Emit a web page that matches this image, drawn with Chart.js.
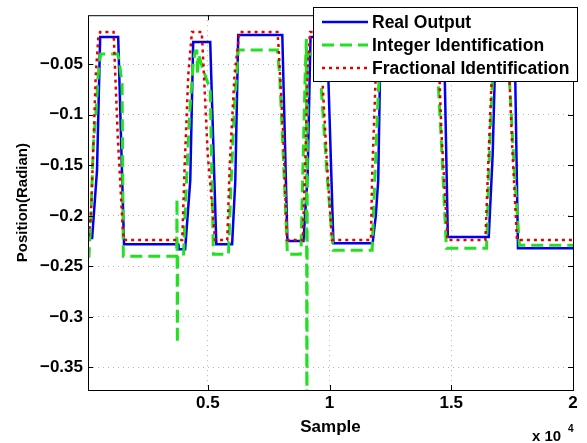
<!DOCTYPE html>
<html>
<head>
<meta charset="utf-8">
<script src="https://cdn.jsdelivr.net/npm/chart.js@4/dist/chart.umd.min.js"></script>
<style>
  html, body { margin: 0; padding: 0; background: #fff; }
  #wrap { width: 587px; height: 443px; position: relative; }
</style>
</head>
<body>
<div id="wrap"><canvas id="posChart"></canvas></div>
<script>
'use strict';

// ── Data ────────────────────────────────────────────────
const xTicks      = [5000, 10000, 15000, 20000];
const xTickLabels = ['0.5', '1', '1.5', '2'];
const yTicks      = [-0.35, -0.3, -0.25, -0.2, -0.15, -0.1, -0.05];

const realX = [0, 250, 450, 580, 1320, 1560, 3780, 3800, 4070, 4280, 4400, 5100, 5350, 6000, 6130, 6250, 8060, 8270, 8930, 9100, 9220, 9900, 10160, 11770, 11900, 12000, 12100, 14700, 14860, 16540, 16700, 16830, 17600, 17740, 20000];
const realY = [-0.222, -0.222, -0.155, -0.023, -0.023, -0.228, -0.228, -0.233, -0.233, -0.165, -0.028, -0.028, -0.228, -0.228, -0.165, -0.021, -0.021, -0.225, -0.225, -0.16, -0.023, -0.023, -0.227, -0.227, -0.2, -0.165, -0.022, -0.022, -0.221, -0.221, -0.14, -0.022, -0.022, -0.232, -0.232];

const intX = [0, 120, 200, 300, 400, 500, 600, 1300, 1350, 1480, 1530, 3720, 3735, 3750, 3765, 4000, 4100, 4250, 4400, 4480, 4550, 4580, 4620, 4800, 5100, 5230, 5850, 5950, 6100, 6250, 7860, 7950, 8100, 8270, 8800, 8830, 8900, 9000, 9050, 9070, 9090, 9600, 9650, 9900, 10150, 11750, 11850, 12000, 12100, 14400, 14600, 14800, 16450, 16550, 16700, 16800, 17300, 17400, 17600, 17800, 20000];
const intY = [-0.24, -0.24, -0.20, -0.13, -0.10, -0.06, -0.040, -0.040, -0.045, -0.07, -0.24, -0.24, -0.183, -0.326, -0.24, -0.24, -0.18, -0.10, -0.05, -0.037, -0.037, -0.06, -0.04, -0.055, -0.075, -0.238, -0.238, -0.17, -0.09, -0.036, -0.036, -0.06, -0.14, -0.238, -0.238, -0.232, -0.16, -0.06, -0.025, -0.45, -0.04, -0.04, -0.07, -0.16, -0.234, -0.234, -0.17, -0.08, -0.04, -0.04, -0.13, -0.232, -0.232, -0.15, -0.06, -0.04, -0.04, -0.07, -0.16, -0.229, -0.229];

const fracX = [0, 80, 200, 300, 400, 500, 580, 1130, 1150, 1300, 1500, 1550, 3950, 4050, 4200, 4350, 4750, 4800, 5000, 5300, 5800, 5900, 6100, 6300, 7860, 7900, 8100, 8250, 8900, 9000, 9100, 9200, 9550, 9650, 9900, 10100, 11700, 11750, 11900, 12000, 14450, 14600, 14850, 16400, 16550, 16700, 16750, 17300, 17350, 17500, 17700, 20000];
const fracY = [-0.225, -0.225, -0.20, -0.13, -0.06, -0.025, -0.018, -0.018, -0.03, -0.12, -0.21, -0.224, -0.224, -0.15, -0.06, -0.018, -0.018, -0.04, -0.14, -0.224, -0.224, -0.15, -0.06, -0.018, -0.018, -0.03, -0.12, -0.224, -0.224, -0.15, -0.06, -0.018, -0.018, -0.04, -0.15, -0.224, -0.224, -0.16, -0.06, -0.018, -0.018, -0.12, -0.224, -0.224, -0.13, -0.04, -0.018, -0.018, -0.04, -0.13, -0.224, -0.224];

const pts = (xs, ys) => xs.map((x, i) => ({ x, y: ys[i] }));

Chart.defaults.font.family = "'Liberation Sans', Arial, sans-serif";
Chart.defaults.font.weight = 'bold';
Chart.defaults.color = '#000';

// ── Boxed legend inside the plot + axis box / inward ticks ──
const matlabFrame = {
    id: 'matlabFrame',
    afterDatasetsDraw(chart) {
        const { ctx, chartArea: a, scales } = chart;
        ctx.save();
        ctx.strokeStyle = '#000';
        ctx.lineWidth = 1;
        ctx.strokeRect(a.left + 0.5, a.top + 0.5, a.right - a.left, a.bottom - a.top);
        ctx.beginPath();
        xTicks.forEach(v => {
            const px = Math.round(scales.x.getPixelForValue(v)) + 0.5;
            ctx.moveTo(px, a.bottom); ctx.lineTo(px, a.bottom - 5);
            ctx.moveTo(px, a.top);    ctx.lineTo(px, a.top + 5);
        });
        yTicks.forEach(v => {
            const py = Math.round(scales.y.getPixelForValue(v)) + 0.5;
            ctx.moveTo(a.left, py);  ctx.lineTo(a.left + 5, py);
            ctx.moveTo(a.right, py); ctx.lineTo(a.right - 5, py);
        });
        ctx.stroke();

        // legend
        const bx = 313, by = 7, bw = 264, bh = 74;
        ctx.fillStyle = '#fff';
        ctx.fillRect(bx, by, bw, bh);
        ctx.strokeRect(bx + 0.5, by + 0.5, bw, bh);
        ctx.font = "bold 17.5px 'Liberation Sans', Arial, sans-serif";
        ctx.textBaseline = 'middle';
        chart.data.datasets.forEach((ds, i) => {
            const y = 22 + i * 23;
            ctx.save();
            ctx.strokeStyle = ds.borderColor;
            ctx.lineWidth = ds.borderWidth;
            ctx.setLineDash(ds.borderDash || []);
            ctx.beginPath(); ctx.moveTo(322, y); ctx.lineTo(368, y); ctx.stroke();
            ctx.restore();
            ctx.fillStyle = '#000';
            ctx.fillText(ds.label, 372, y + 1);
        });

        // exponent label under the x axis
        ctx.font = "bold 15px 'Liberation Sans', Arial, sans-serif";
        ctx.textBaseline = 'alphabetic';
        ctx.fillText('x 10', 532, 441);
        ctx.font = "bold 10px 'Liberation Sans', Arial, sans-serif";
        ctx.fillText('4', 568, 432);
        ctx.restore();
    }
};

new Chart(document.getElementById('posChart').getContext('2d'), {
    type: 'line',
    data: {
        datasets: [
            { label: 'Real Output', data: pts(realX, realY), borderColor: '#0000ee', borderWidth: 2.5, order: 3 },
            { label: 'Integer Identification', data: pts(intX, intY), borderColor: '#22e022', borderWidth: 3, borderDash: [12, 6], order: 2 },
            { label: 'Fractional Identification', data: pts(fracX, fracY), borderColor: '#e00000', borderWidth: 2.5, borderDash: [3, 4], order: 1 },
        ]
    },
    options: {
        responsive: true, maintainAspectRatio: false, animation: false,
        layout: { padding: { top: 8, right: 14, left: 0, bottom: 0 } },
        elements: { point: { radius: 0 }, line: { tension: 0 } },
        plugins: { legend: { display: false }, tooltip: { enabled: false } },
        scales: {
            x: {
                type: 'linear', min: 80, max: 20000,
                afterBuildTicks: s => { s.ticks = xTicks.map(v => ({ value: v })); },
                afterFit: s => { s.height = 53; },
                ticks: { font: { size: 17 }, padding: 3, maxRotation: 0,
                         callback: v => xTickLabels[xTicks.indexOf(v)] },
                grid: { color: 'rgba(0,0,0,0.3)', drawTicks: false },
                border: { display: false, dash: [1, 4] },
                title: { display: true, text: 'Sample', font: { size: 17 }, padding: { top: 0, bottom: 5 } }
            },
            y: {
                min: -0.3723, max: -0.0015,
                afterBuildTicks: s => { s.ticks = yTicks.map(v => ({ value: v })); },
                afterFit: s => { s.width = 88; },
                ticks: { font: { size: 17 }, padding: 5,
                         callback: v => String(v).replace('-', '\u2212') },
                grid: { color: 'rgba(0,0,0,0.3)', drawTicks: false },
                border: { display: false, dash: [1, 4] },
                title: { display: true, text: 'Position(Radian)', font: { size: 15 }, padding: { top: 14, bottom: 0 } }
            }
        }
    },
    plugins: [matlabFrame]
});
</script>
</body>
</html>
